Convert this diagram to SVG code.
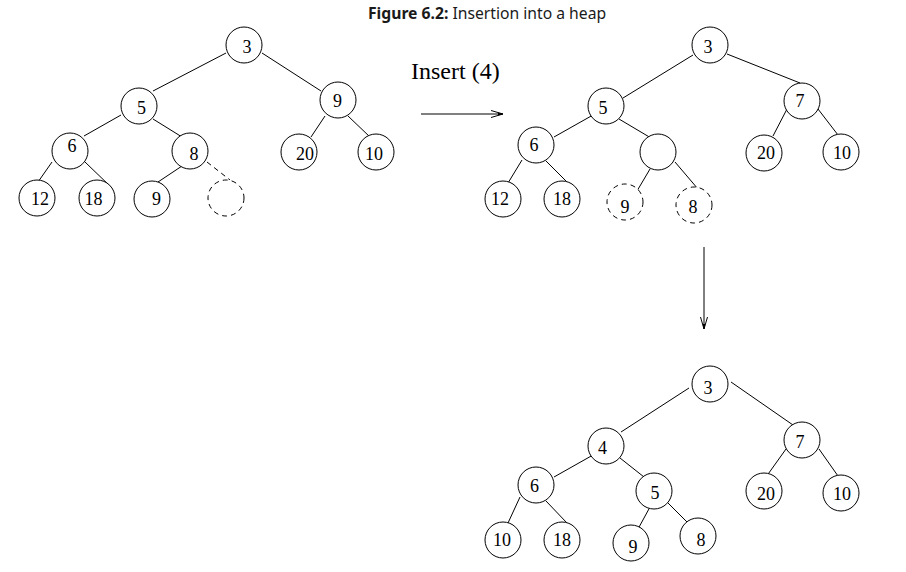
<svg xmlns="http://www.w3.org/2000/svg" width="906" height="572" viewBox="0 0 906 572">
<style>
.n{fill:#fff;stroke:#000;stroke-width:1}
.d{fill:#fff;stroke:#000;stroke-width:1;stroke-dasharray:5 4}
.t{font-family:"Liberation Serif","Times New Roman",serif;font-size:18px;fill:#000;text-anchor:middle}
.e{stroke:#000;stroke-width:1;fill:none}
.de{stroke:#000;stroke-width:1;fill:none;stroke-dasharray:5 4}
.title{font-family:"Noto Sans","Open Sans",sans-serif;font-size:15.7px;fill:#1a1a1a}
</style>
<defs>
<marker id="ah" markerUnits="userSpaceOnUse" markerWidth="13" markerHeight="9" refX="12" refY="4.5" orient="auto">
<path d="M0,1 L12,4.5 L0,8" fill="none" stroke="#000" stroke-width="1"/>
<path d="M7,3 L12,4.5 L7,6 z" fill="#000"/>
</marker>
</defs>
<rect width="906" height="572" fill="#fff"/>
<text class="title" x="368" y="19"><tspan font-weight="bold">Figure 6.2:</tspan> Insertion into a heap</text>
<text x="411" y="79" font-family="Liberation Serif,Times New Roman,serif" font-size="24" fill="#000">Insert (4)</text>
<g id="connectors">
<line class="e" x1="421" y1="114" x2="503" y2="114" marker-end="url(#ah)"/>
<line class="e" x1="704" y1="247" x2="704" y2="329" marker-end="url(#ah)"/>
<!-- tree 1 -->
<line class="e" x1="226" y1="53" x2="153" y2="91"/>
<line class="e" x1="262" y1="53" x2="321" y2="91"/>
<line class="e" x1="121" y1="115" x2="84" y2="136"/>
<line class="e" x1="153" y1="119" x2="182" y2="137"/>
<line class="e" x1="325" y1="116" x2="311" y2="137"/>
<line class="e" x1="348" y1="116" x2="370" y2="137"/>
<line class="e" x1="52" y1="162" x2="38" y2="182"/>
<line class="e" x1="85" y1="162" x2="112" y2="188"/>
<line class="e" x1="182" y1="166" x2="158" y2="182"/>
<line class="de" x1="207" y1="162" x2="230" y2="180"/>
<!-- tree 2 -->
<line class="e" x1="693" y1="55" x2="623" y2="98"/>
<line class="e" x1="727" y1="54" x2="800" y2="83"/>
<line class="e" x1="593" y1="115" x2="554" y2="137"/>
<line class="e" x1="619" y1="119" x2="651" y2="138"/>
<line class="e" x1="787" y1="109" x2="773" y2="136"/>
<line class="e" x1="818" y1="109" x2="838" y2="135"/>
<line class="e" x1="522" y1="160" x2="508" y2="183"/>
<line class="e" x1="546" y1="161" x2="568" y2="183"/>
<line class="e" x1="650" y1="169" x2="637" y2="191"/>
<line class="e" x1="675" y1="162" x2="698" y2="189"/>
<!-- tree 3 -->
<line class="e" x1="689" y1="388" x2="621" y2="432"/>
<line class="e" x1="731" y1="382" x2="793" y2="425"/>
<line class="e" x1="593" y1="455" x2="554" y2="477"/>
<line class="e" x1="620" y1="458" x2="644" y2="477"/>
<line class="e" x1="786" y1="449" x2="766" y2="477"/>
<line class="e" x1="819" y1="449" x2="838" y2="476"/>
<line class="e" x1="520" y1="497" x2="508" y2="523"/>
<line class="e" x1="546" y1="501" x2="567" y2="523"/>
<line class="e" x1="650" y1="507" x2="638" y2="529"/>
<line class="e" x1="668" y1="503" x2="688" y2="523"/>
</g>
<!-- tree 1 nodes -->
<g id="a3"><circle class="n" cx="244" cy="45" r="18"/><text class="t" x="247" y="53">3</text></g>
<g id="a5"><circle class="n" cx="139" cy="106" r="18"/><text class="t" x="141.5" y="114">5</text></g>
<g id="a9"><circle class="n" cx="338" cy="100" r="18"/><text class="t" x="337.5" y="107">9</text></g>
<g id="a6"><circle class="n" cx="70" cy="151" r="18"/><text class="t" x="72" y="152">6</text></g>
<g id="a8"><circle class="n" cx="190" cy="151" r="18"/><text class="t" x="194" y="160">8</text></g>
<g id="a20"><circle class="n" cx="299" cy="152" r="18"/><text class="t" x="305" y="160">20</text></g>
<g id="a10"><circle class="n" cx="376" cy="152" r="18"/><text class="t" x="374" y="160">10</text></g>
<g id="a12"><circle class="n" cx="37" cy="198" r="18"/><text class="t" x="40" y="205">12</text></g>
<g id="a18"><circle class="n" cx="97" cy="198" r="18"/><text class="t" x="93.5" y="205">18</text></g>
<g id="a9b"><circle class="n" cx="152" cy="199" r="18"/><text class="t" x="156.5" y="205">9</text></g>
<g id="aNew"><circle class="d" cx="226" cy="198" r="18"/></g>
<!-- tree 2 nodes -->
<g id="b3"><circle class="n" cx="710" cy="45" r="18"/><text class="t" x="708" y="53">3</text></g>
<g id="b5"><circle class="n" cx="606" cy="106" r="18"/><text class="t" x="603" y="114">5</text></g>
<g id="b7"><circle class="n" cx="802" cy="101" r="18"/><text class="t" x="800" y="107">7</text></g>
<g id="b6"><circle class="n" cx="536" cy="145" r="18"/><text class="t" x="534" y="151">6</text></g>
<g id="bEmpty"><circle class="n" cx="658" cy="152" r="18"/></g>
<g id="b20"><circle class="n" cx="764" cy="153" r="18"/><text class="t" x="766" y="159">20</text></g>
<g id="b10"><circle class="n" cx="841" cy="152" r="18"/><text class="t" x="842" y="159">10</text></g>
<g id="b12"><circle class="n" cx="503" cy="199" r="18"/><text class="t" x="500" y="205">12</text></g>
<g id="b18"><circle class="n" cx="562" cy="199" r="18"/><text class="t" x="562" y="205">18</text></g>
<g id="b9"><circle class="d" cx="625" cy="202" r="18"/><text class="t" x="625" y="212.5">9</text></g>
<g id="b8"><circle class="d" cx="694" cy="205" r="18"/><text class="t" x="693" y="212.5">8</text></g>
<!-- tree 3 nodes -->
<g id="c3"><circle class="n" cx="710" cy="384" r="18"/><text class="t" x="708" y="394">3</text></g>
<g id="c4"><circle class="n" cx="606" cy="446" r="18"/><text class="t" x="602.5" y="454">4</text></g>
<g id="c7"><circle class="n" cx="802" cy="440" r="18"/><text class="t" x="800" y="447.5">7</text></g>
<g id="c6"><circle class="n" cx="536" cy="485" r="18"/><text class="t" x="534.5" y="491.5">6</text></g>
<g id="c5"><circle class="n" cx="654" cy="491" r="18"/><text class="t" x="655" y="499">5</text></g>
<g id="c20"><circle class="n" cx="764" cy="491" r="18"/><text class="t" x="766" y="500">20</text></g>
<g id="c10"><circle class="n" cx="841" cy="493" r="18"/><text class="t" x="842" y="500">10</text></g>
<g id="c10b"><circle class="n" cx="503" cy="540" r="18"/><text class="t" x="502" y="545.5">10</text></g>
<g id="c18"><circle class="n" cx="562" cy="540" r="18"/><text class="t" x="562" y="545.5">18</text></g>
<g id="c9"><circle class="n" cx="631" cy="543" r="18"/><text class="t" x="633" y="552.5">9</text></g>
<g id="c8"><circle class="n" cx="698" cy="536" r="18"/><text class="t" x="701" y="545.5">8</text></g>
</svg>
